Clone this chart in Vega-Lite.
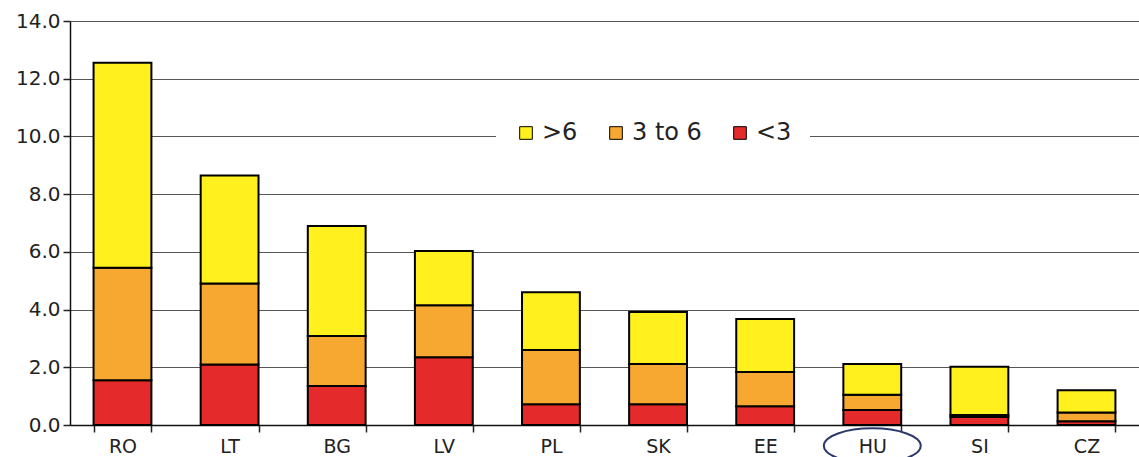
{
  "$schema": "https://vega.github.io/schema/vega-lite/v6.json",
  "autosize": "none",
  "width": 1069,
  "height": 404,
  "padding": {"left": 70, "top": 21, "right": 0, "bottom": 32},
  "background": "white",
  "config": {
    "view": {"stroke": null},
    "font": "DejaVu Sans"
  },
  "layer": [
    {
      "data": {
        "values": [
          {"country": "RO", "group": "<3", "lvl": 1, "value": 1.55},
          {"country": "RO", "group": "3 to 6", "lvl": 2, "value": 3.9},
          {"country": "RO", "group": ">6", "lvl": 3, "value": 7.1},
          {"country": "LT", "group": "<3", "lvl": 1, "value": 2.1},
          {"country": "LT", "group": "3 to 6", "lvl": 2, "value": 2.8},
          {"country": "LT", "group": ">6", "lvl": 3, "value": 3.75},
          {"country": "BG", "group": "<3", "lvl": 1, "value": 1.35},
          {"country": "BG", "group": "3 to 6", "lvl": 2, "value": 1.73},
          {"country": "BG", "group": ">6", "lvl": 3, "value": 3.82},
          {"country": "LV", "group": "<3", "lvl": 1, "value": 2.35},
          {"country": "LV", "group": "3 to 6", "lvl": 2, "value": 1.8},
          {"country": "LV", "group": ">6", "lvl": 3, "value": 1.88},
          {"country": "PL", "group": "<3", "lvl": 1, "value": 0.72},
          {"country": "PL", "group": "3 to 6", "lvl": 2, "value": 1.88},
          {"country": "PL", "group": ">6", "lvl": 3, "value": 2.0},
          {"country": "SK", "group": "<3", "lvl": 1, "value": 0.72},
          {"country": "SK", "group": "3 to 6", "lvl": 2, "value": 1.39},
          {"country": "SK", "group": ">6", "lvl": 3, "value": 1.81},
          {"country": "EE", "group": "<3", "lvl": 1, "value": 0.65},
          {"country": "EE", "group": "3 to 6", "lvl": 2, "value": 1.19},
          {"country": "EE", "group": ">6", "lvl": 3, "value": 1.83},
          {"country": "HU", "group": "<3", "lvl": 1, "value": 0.52},
          {"country": "HU", "group": "3 to 6", "lvl": 2, "value": 0.53},
          {"country": "HU", "group": ">6", "lvl": 3, "value": 1.06},
          {"country": "SI", "group": "<3", "lvl": 1, "value": 0.28},
          {"country": "SI", "group": "3 to 6", "lvl": 2, "value": 0.07},
          {"country": "SI", "group": ">6", "lvl": 3, "value": 1.67},
          {"country": "CZ", "group": "<3", "lvl": 1, "value": 0.13},
          {"country": "CZ", "group": "3 to 6", "lvl": 2, "value": 0.3},
          {"country": "CZ", "group": ">6", "lvl": 3, "value": 0.77}
        ]
      },
      "mark": {"type": "bar", "stroke": "black", "strokeWidth": 2},
      "encoding": {
        "x": {
          "field": "country",
          "type": "nominal",
          "sort": ["RO", "LT", "BG", "LV", "PL", "SK", "EE", "HU", "SI", "CZ"],
          "scale": {
            "domain": ["RO", "LT", "BG", "LV", "PL", "SK", "EE", "HU", "SI", "CZ"],
            "paddingInner": 0.46,
            "paddingOuter": 0.22
          },
          "axis": {
            "title": null,
            "labelAngle": 0,
            "labelFontSize": 19,
            "labelColor": "#222",
            "labelPadding": 5,
            "tickBand": "extent",
            "tickSize": 7,
            "tickColor": "#222",
            "tickWidth": 1.5,
            "domainColor": "#111",
            "domainWidth": 1.5
          }
        },
        "y": {
          "field": "value",
          "type": "quantitative",
          "stack": "zero",
          "scale": {"domain": [0, 14], "nice": false},
          "axis": {
            "title": null,
            "values": [0, 2, 4, 6, 8, 10, 12, 14],
            "format": ".1f",
            "labelFontSize": 20,
            "labelColor": "#222",
            "labelPadding": 3,
            "tickSize": 7,
            "tickColor": "#222",
            "tickWidth": 1.5,
            "domainColor": "#111",
            "domainWidth": 1.5,
            "grid": true,
            "gridColor": "#555",
            "gridWidth": 1.2
          }
        },
        "color": {
          "field": "group",
          "type": "nominal",
          "scale": {
            "domain": [">6", "3 to 6", "<3"],
            "range": ["#FFF01E", "#F7A830", "#E42A2A"]
          },
          "legend": {
            "title": null,
            "orient": "none",
            "legendX": 426,
            "legendY": 82,
            "direction": "horizontal",
            "fillColor": "white",
            "padding": 18,
            "labelFontSize": 24,
            "labelColor": "#222",
            "labelOffset": 4,
            "symbolType": "square",
            "symbolSize": 160,
            "symbolStrokeColor": "black",
            "symbolStrokeWidth": 1,
            "columnPadding": 26
          }
        },
        "order": {"field": "lvl", "type": "quantitative"}
      }
    },
    {
      "data": {"values": [{"country": "HU"}]},
      "mark": {
        "type": "point",
        "shape": "M-1,0A1,0.36,0,1,1,1,0A1,0.36,0,1,1,-1,0Z",
        "size": 9400,
        "filled": false,
        "stroke": "#2B3A6B",
        "strokeWidth": 2,
        "opacity": 1
      },
      "encoding": {
        "x": {"field": "country", "type": "nominal", "sort": ["RO", "LT", "BG", "LV", "PL", "SK", "EE", "HU", "SI", "CZ"]},
        "y": {"datum": -0.72, "type": "quantitative"}
      }
    }
  ]
}
